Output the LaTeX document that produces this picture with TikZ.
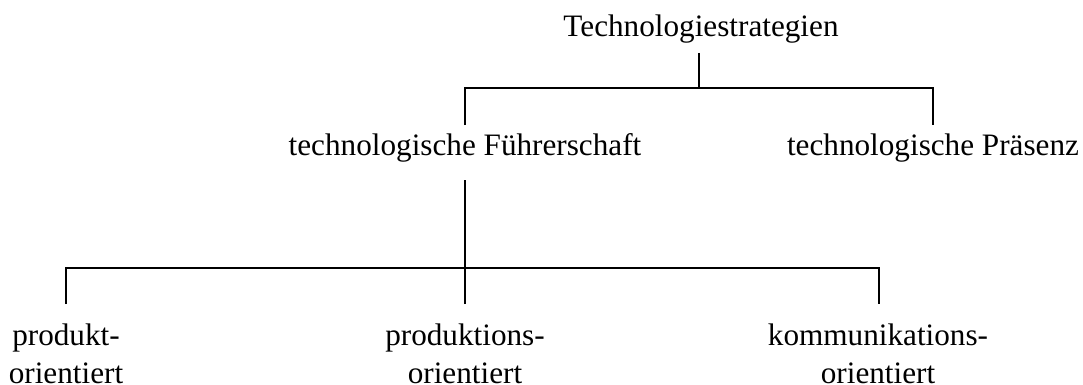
\documentclass[tikz,border=0pt]{standalone}
\usepackage{fontspec}
\setmainfont{Liberation Serif}
\begin{document}
\begin{tikzpicture}[x=1pt,y=-1pt,
  conn/.style={line width=1.4pt, black},
  lbl/.style={inner sep=0pt, outer sep=0pt, font=\fontsize{31.2}{38}\selectfont, align=center}]
\useasboundingbox[fill=white] (0,0) rectangle (1083,385);
% nodes
\node[lbl, anchor=base] (top) at (701,37) {Technologiestrategien};
\node[lbl, anchor=base] (fs) at (465,155) {technologische Führerschaft};
\node[lbl, anchor=base] (pr) at (933,155) {technologische Präsenz};
\node[lbl, anchor=base] (p1) at (66,383) {produkt-\\orientiert};
\node[lbl, anchor=base] (p2) at (465,383) {produktions-\\orientiert};
\node[lbl, anchor=base] (p3) at (878,383) {kommunikations-\\orientiert};
% junction coordinates
\coordinate (j1) at (699,88);
\coordinate (j2) at (465,268);
% connectors
\draw[conn] (top.base -| j1) ++(0,16) -- (j1);
\draw[conn] (fs.base) ++(0,-30) |- (j1) -| ([yshift=30pt]pr.base);
\draw[conn] (fs.base) ++(0,25) -- (j2);
\draw[conn] (p1.base) ++(0,-79) |- (j2) -| ([yshift=79pt]p3.base -| 879,0);
\draw[conn] (p2.base) ++(0,-79) -- (j2);
\end{tikzpicture}
\end{document}
